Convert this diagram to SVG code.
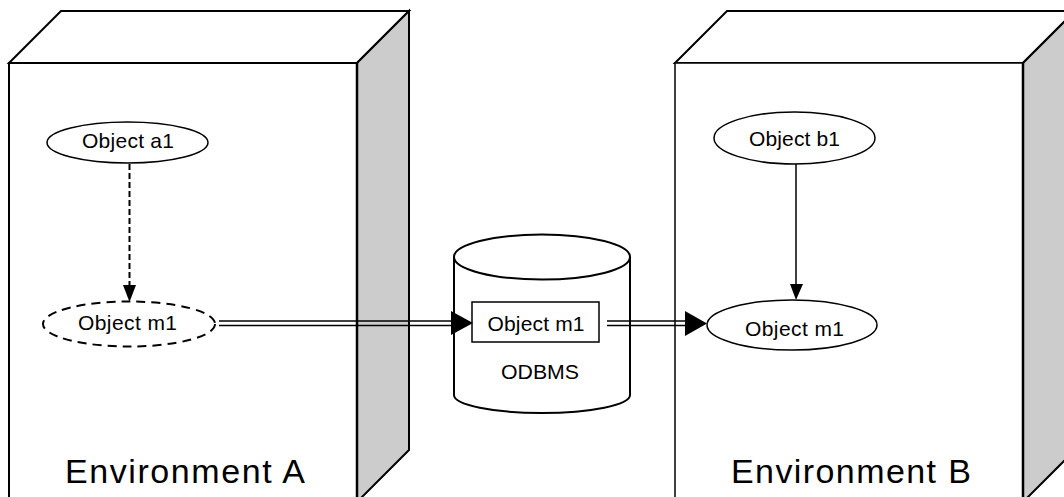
<svg xmlns="http://www.w3.org/2000/svg" width="1064" height="497" viewBox="0 0 1064 497">
  <style>
    .face { fill: #ffffff; stroke: #000000; stroke-width: 2; stroke-linejoin: miter; }
    .side { fill: #cccccc; stroke: #000000; stroke-width: 2; }
    .edge { fill: none; stroke: #000000; stroke-width: 2.5; }
    .obj { fill: #ffffff; stroke: #000000; stroke-width: 1.5; }
    .dashobj { fill: #ffffff; stroke: #000000; stroke-width: 2; stroke-dasharray: 9 6; }
    .lbl { font-family: "Liberation Sans", Arial, sans-serif; font-size: 21px; fill: #000000; text-anchor: middle; }
    .env { font-family: "Liberation Sans", Arial, sans-serif; font-size: 34px; fill: #000000; text-anchor: middle; }
    .line { fill: none; stroke: #000000; stroke-width: 1.5; }
    .head { fill: #000000; stroke: none; }
  </style>

  <!-- Environment A: box in perspective -->
  <g id="envA">
    <polygon class="face" points="9,63 61,11 409,11 357,63"/>
    <polygon class="side" points="357,63 409,11 409,450 357,502"/>
    <rect class="face" x="9" y="63" width="348" height="450"/>
    <line class="edge" x1="357" y1="63" x2="357" y2="502"/>
    <text class="env" x="185" y="483" textLength="240" lengthAdjust="spacing">Environment A</text>
  </g>

  <!-- Environment B: box in perspective -->
  <g id="envB">
    <polygon class="face" points="675,63 727,11 1075,11 1023,63"/>
    <polygon class="side" points="1023,63 1075,11 1075,450 1023,502"/>
    <rect class="face" x="675" y="63" width="348" height="450" style="stroke-width:1.5"/>
    <line class="edge" x1="1023" y1="63" x2="1023" y2="502"/>
    <text class="env" x="851" y="483" textLength="240" lengthAdjust="spacing">Environment B</text>
  </g>

  <!-- ODBMS store -->
  <g id="odbms">
    <path d="M454,257 L454,395 A88,18 0 0 0 630,395 L630,257" fill="#ffffff" stroke="#000000" stroke-width="2"/>
    <ellipse cx="542" cy="257" rx="88" ry="22.5" fill="#ffffff" stroke="#000000" stroke-width="2"/>
    <text class="lbl" x="540" y="379" textLength="78" lengthAdjust="spacingAndGlyphs">ODBMS</text>
  </g>

  <g id="objA1">
    <ellipse class="obj" cx="127.5" cy="142.5" rx="80.5" ry="20.5"/>
    <text class="lbl" x="128" y="148" textLength="92" lengthAdjust="spacing">Object a1</text>
  </g>

  <g id="objM1A">
    <ellipse class="dashobj" cx="129" cy="324" rx="86" ry="22.5"/>
    <text class="lbl" x="127.5" y="330" textLength="99" lengthAdjust="spacing">Object m1</text>
  </g>

  <g id="objM1Store">
    <rect class="obj" x="472" y="302" width="127" height="40"/>
    <text class="lbl" x="536" y="331" textLength="97" lengthAdjust="spacing">Object m1</text>
  </g>

  <g id="objB1">
    <ellipse class="obj" cx="794.5" cy="138" rx="80.5" ry="26"/>
    <text class="lbl" x="794.5" y="146" textLength="91" lengthAdjust="spacing">Object b1</text>
  </g>

  <g id="objM1B">
    <ellipse class="obj" cx="792" cy="325" rx="85" ry="25"/>
    <text class="lbl" x="794.5" y="336" textLength="99" lengthAdjust="spacing">Object m1</text>
  </g>

  <!-- connectors -->
  <g id="connectors">
    <!-- a1 to m1: dashed -->
    <line x1="129.5" y1="164" x2="129.5" y2="286" stroke="#000000" stroke-width="2" stroke-dasharray="6 3"/>
    <polygon class="head" points="123,285 136,285 129.5,302"/>

    <!-- b1 to m1 -->
    <line class="line" x1="796" y1="164" x2="796" y2="285"/>
    <polygon class="head" points="790,284 803,284 796,300"/>

    <!-- m1 copied into the store -->
    <line class="line" x1="219" y1="321" x2="452" y2="321"/>
    <line class="line" x1="219" y1="325.5" x2="452" y2="325.5"/>
    <polygon class="head" points="451,311 473,323 451,335"/>

    <!-- store to environment B -->
    <line class="line" x1="607" y1="321" x2="686" y2="321"/>
    <line class="line" x1="607" y1="325.5" x2="686" y2="325.5"/>
    <polygon class="head" points="685,311 707,323.5 685,336"/>
  </g>
</svg>
